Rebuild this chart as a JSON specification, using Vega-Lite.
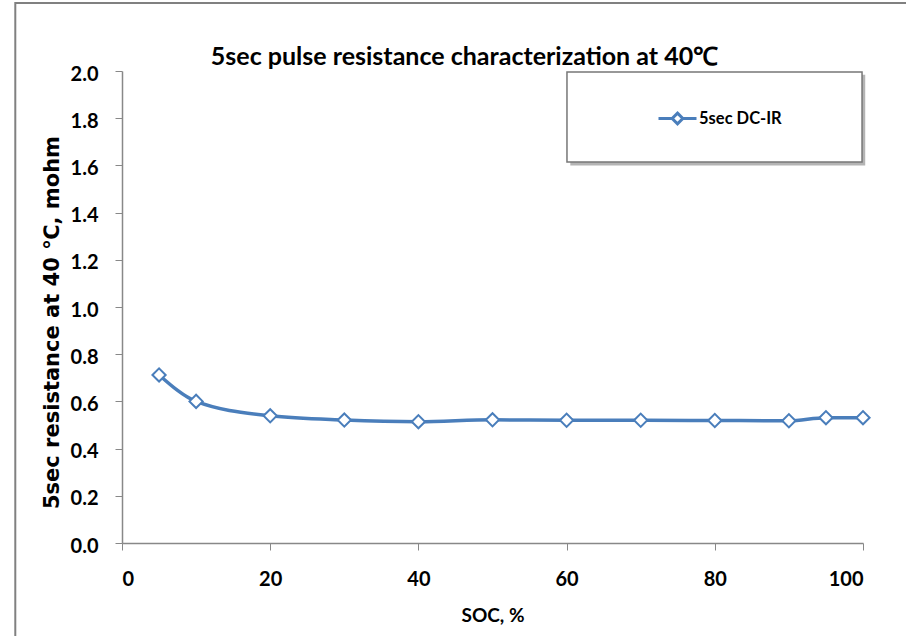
{
  "$schema": "https://vega.github.io/schema/vega-lite/v6.json",
  "width": 741,
  "height": 472,
  "autosize": {"type": "none"},
  "padding": {"left": 122, "top": 71, "right": 43, "bottom": 93},
  "background": "white",
  "config": {
    "view": {"stroke": null},
    "font": "Lato",
    "axis": {
      "labelFont": "Lato",
      "labelFontWeight": "bold",
      "labelFontSize": 20,
      "labelColor": "#000",
      "tickSize": 7,
      "tickColor": "#888",
      "tickWidth": 1,
      "domainColor": "#888",
      "domainWidth": 1.5,
      "gridColor": "#8c8c8c",
      "gridDash": [2, 2],
      "gridWidth": 1,
      "titleColor": "#000"
    }
  },
  "title": {
    "text": "5sec pulse resistance characterization at 40℃",
    "font": "Lato",
    "fontSize": 25,
    "fontWeight": "bold",
    "color": "#000",
    "anchor": "middle",
    "frame": "group",
    "dx": -28,
    "dy": 97,
    "offset": 9,
    "baseline": "alphabetic"
  },
  "layer": [
    {
      "data": {"values": [{"frame": "outer"}]},
      "mark": {"type": "rect", "fill": null, "stroke": "#808080", "strokeWidth": 2, "clip": false},
      "encoding": {
        "x": {"datum": -14.4, "type": "quantitative", "title": "SOC, %"},
        "x2": {"datum": 110},
        "y": {"datum": 2.288, "type": "quantitative", "title": "5sec resistance at 40 ℃, mohm"},
        "y2": {"datum": -0.5}
      }
    },
    {
      "data": {"values": [
        {"soc": 5, "r": 0.712, "series": "5sec DC-IR"},
        {"soc": 10, "r": 0.600, "series": "5sec DC-IR"},
        {"soc": 20, "r": 0.539, "series": "5sec DC-IR"},
        {"soc": 30, "r": 0.521, "series": "5sec DC-IR"},
        {"soc": 40, "r": 0.514, "series": "5sec DC-IR"},
        {"soc": 50, "r": 0.522, "series": "5sec DC-IR"},
        {"soc": 60, "r": 0.520, "series": "5sec DC-IR"},
        {"soc": 70, "r": 0.520, "series": "5sec DC-IR"},
        {"soc": 80, "r": 0.519, "series": "5sec DC-IR"},
        {"soc": 90, "r": 0.518, "series": "5sec DC-IR"},
        {"soc": 95, "r": 0.531, "series": "5sec DC-IR"},
        {"soc": 100, "r": 0.531, "series": "5sec DC-IR"}
      ]},
      "layer": [
        {
          "mark": {"type": "line", "interpolate": "monotone", "strokeWidth": 3.5},
          "encoding": {
            "x": {
              "field": "soc", "type": "quantitative",
              "title": "SOC, %",
              "scale": {"domain": [0, 100], "nice": false},
              "axis": {
                "values": [0, 20, 40, 60, 80, 100],
                "labelBaseline": "alphabetic",
                "labelPadding": 35,
                "title": "SOC, %",
                "titleFont": "Lato",
                "titleFontSize": 19,
                "titleFontWeight": "bold",
                "titleBaseline": "alphabetic",
                "titleY": 78
              }
            },
            "y": {
              "field": "r", "type": "quantitative",
              "title": "5sec resistance at 40 ℃, mohm",
              "scale": {"domain": [0, 2], "nice": false},
              "axis": {
                "values": [0, 0.2, 0.4, 0.6, 0.8, 1.0, 1.2, 1.4, 1.6, 1.8, 2.0],
                "format": ".1f",
                "labelPadding": 17,
                "labelOffset": 3,
                "title": "5sec resistance at 40 ℃, mohm",
                "titleFont": "DejaVu Sans",
                "titleFontSize": 21,
                "titleFontWeight": "bold",
                "titleBaseline": "alphabetic",
                "titleX": -64,
                "titleY": 251
              }
            },
            "color": {
              "field": "series", "type": "nominal",
              "scale": {"range": ["#4A7EBB"]},
              "legend": {
                "title": null,
                "orient": "none",
                "legendX": 535,
                "legendY": 27,
                "padding": 0,
                "symbolType": "M-1,0H-0.28M0.28,0H1M0,-0.28L0.28,0L0,0.28L-0.28,0Z",
                "symbolSize": 1444,
                "symbolStrokeWidth": 3,
                "symbolFillColor": "white",
                "symbolStrokeColor": "#4A7EBB",
                "labelFont": "Lato",
                "labelFontSize": 16.5,
                "labelFontWeight": "bold",
                "labelColor": "#000",
                "labelOffset": 1
              }
            }
          }
        },
        {
          "mark": {"type": "point", "shape": "diamond", "size": 175, "filled": true, "fill": "white", "stroke": "#4A7EBB", "strokeWidth": 2, "opacity": 1},
          "encoding": {
            "x": {"field": "soc", "type": "quantitative", "title": "SOC, %"},
            "y": {"field": "r", "type": "quantitative", "title": "5sec resistance at 40 ℃, mohm"}
          }
        }
      ]
    },
    {
      "data": {"values": [{"box": "legend"}]},
      "layer": [
        {
          "mark": {"type": "rect", "fill": "#777", "opacity": 0.55, "clip": false},
          "encoding": {
            "x": {"datum": 60.5, "type": "quantitative", "title": "SOC, %"},
            "x2": {"datum": 100.3},
            "y": {"datum": 1.984, "type": "quantitative", "title": "5sec resistance at 40 ℃, mohm"},
            "y2": {"datum": 1.6}
          }
        },
        {
          "mark": {"type": "rect", "fill": "white", "stroke": "#777", "strokeWidth": 1.5, "clip": false},
          "encoding": {
            "x": {"datum": 60.05, "type": "quantitative", "title": "SOC, %"},
            "x2": {"datum": 99.87},
            "y": {"datum": 1.996, "type": "quantitative", "title": "5sec resistance at 40 ℃, mohm"},
            "y2": {"datum": 1.614}
          }
        }
      ]
    }
  ]
}
